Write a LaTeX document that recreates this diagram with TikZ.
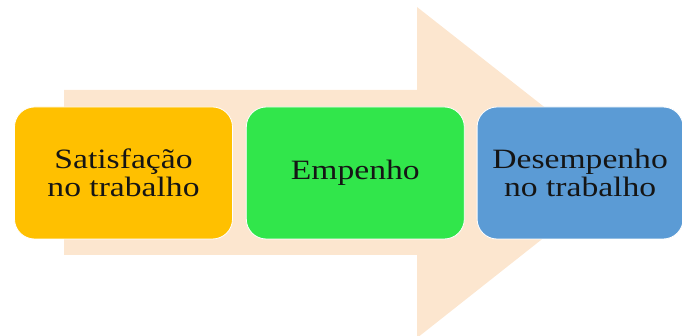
\documentclass[tikz,border=0pt]{standalone}
\usepackage{fontspec}
\setmainfont{Liberation Serif}
\usetikzlibrary{positioning}

\definecolor{peach}{HTML}{FCE6CF}
\definecolor{boxorange}{HTML}{FFC000}
\definecolor{boxgreen}{HTML}{31E64B}
\definecolor{boxblue}{HTML}{5B9BD5}
\definecolor{txtdark}{HTML}{151515}

\tikzset{
    stagebox/.style={rounded corners=20pt, draw=white, line width=0.8pt,
        minimum width=218pt, minimum height=132pt, inner sep=0pt,
        align=center, text=txtdark,
        font=\fontsize{28}{28}\selectfont},
}
\newcommand{\wide}[1]{\scalebox{1.2}[1]{#1}}

\begin{document}
\begin{tikzpicture}[x=1pt,y=1pt]
    \useasboundingbox (0,0) rectangle (682,336);
    % big arrow behind the boxes
    \fill[peach] (64,81) -- (64,246) -- (417,246) -- (417,329)
        -- (627,164) -- (417,-2) -- (417,81) -- cycle;
    % the three stages
    \node[stagebox, fill=boxorange] (sat) at (123.5,163)
        {\wide{Satisfação}\\\wide{no trabalho}};
    \node[stagebox, fill=boxgreen, right=13pt of sat] (emp)
        {\wide{Empenho}};
    \node[stagebox, fill=boxblue, minimum width=206pt, right=12pt of emp] (des)
        {\wide{Desempenho}\\\wide{no trabalho}};
\end{tikzpicture}
\end{document}
